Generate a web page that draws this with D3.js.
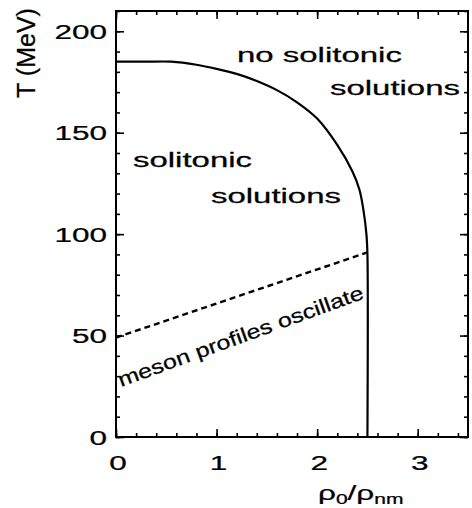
<!DOCTYPE html>
<html>
<head>
<meta charset="utf-8">
<script src="https://cdn.jsdelivr.net/npm/d3@7/dist/d3.min.js"></script>
<style>
  body { margin: 0; background: #fff; }
  svg { display: block; }
  text { font-family: "Liberation Sans", Arial, Helvetica, sans-serif; fill: #000; stroke: #000; stroke-width: 0.25px; }
</style>
</head>
<body>
<svg id="chart" width="472" height="508"></svg>
<script>
// Boundary between solitonic and non-solitonic solutions
const boundaryDensity = [0, 0.3, 0.55, 0.8, 1.0, 1.2, 1.4, 1.6, 1.8, 2.0, 2.2, 2.35, 2.42, 2.46, 2.49, 2.5, 2.5];
const boundaryT       = [185, 185, 185, 183.5, 181.5, 179, 175.5, 171, 165, 157, 144, 131, 122, 112, 100, 90, 0];

// Onset of oscillating meson profiles (dashed)
const oscDensity = [0, 2.5];
const oscT       = [49, 91];

const xTickValues = [0, 1, 2, 3];
const yTickValues = [0, 50, 100, 150, 200];
const xMinorStep = 0.2;
const yMinorStep = 10;

const svg = d3.select("#chart");
const plotLeft = 116, plotRight = 468, plotTop = 11, plotBottom = 437;

const x = d3.scaleLinear().domain([0, 3.5]).range([plotLeft, plotRight]);
const y = d3.scaleLinear().domain([0, 210]).range([plotBottom, plotTop]);

const xMinor = d3.range(0, 3.5 + 1e-9, xMinorStep).map(v => +v.toFixed(2));
const yMinor = d3.range(0, 210 + 1e-9, yMinorStep);

// inward-pointing ticks on all four sides
function tickAxis(gen, scale, values, size, tx, ty) {
  svg.append("g")
    .attr("transform", `translate(${tx},${ty})`)
    .call(gen(scale).tickValues(values).tickSize(size).tickFormat(""))
    .call(g => g.select(".domain").remove())
    .call(g => g.selectAll("line").attr("stroke", "#000").attr("stroke-width", 1.6));
}
tickAxis(d3.axisBottom, x, xMinor, -4, 0, plotBottom);
tickAxis(d3.axisBottom, x, xTickValues, -8, 0, plotBottom);
tickAxis(d3.axisTop, x, xMinor, -4, 0, plotTop);
tickAxis(d3.axisTop, x, xTickValues, -8, 0, plotTop);
tickAxis(d3.axisLeft, y, yMinor, -4, plotLeft, 0);
tickAxis(d3.axisLeft, y, yTickValues, -8, plotLeft, 0);
tickAxis(d3.axisRight, y, yMinor, -4, plotRight, 0);
tickAxis(d3.axisRight, y, yTickValues, -8, plotRight, 0);

// frame
svg.append("rect")
  .attr("x", plotLeft).attr("y", plotTop)
  .attr("width", plotRight - plotLeft).attr("height", plotBottom - plotTop)
  .attr("fill", "none").attr("stroke", "#000").attr("stroke-width", 2);

// tick labels (wide face, stretched horizontally)
const tickFont = 21, stretch = 1.5;
svg.append("g").selectAll("g").data(xTickValues).join("g")
  .attr("transform", d => `translate(${x(d) + 2},470) scale(${stretch},1)`)
  .append("text")
  .attr("text-anchor", "middle")
  .attr("font-size", tickFont)
  .text(d => d);

svg.append("g").selectAll("g").data(yTickValues).join("g")
  .attr("transform", d => `translate(107,${y(d) + 7.5}) scale(${stretch},1)`)
  .append("text")
  .attr("text-anchor", "end")
  .attr("font-size", tickFont)
  .text(d => d);

// axis titles
svg.append("text")
  .attr("transform", "translate(35,53) rotate(-90)")
  .attr("text-anchor", "middle")
  .attr("font-size", 25)
  .text("T (MeV)");

const xTitle = svg.append("g")
  .attr("transform", `translate(318,500) scale(${stretch},1)`)
  .append("text")
  .attr("font-size", 21);
xTitle.append("tspan").text("ρ");
xTitle.append("tspan").attr("font-size", 14).attr("dy", 4).text("0");
xTitle.append("tspan").attr("dy", -4).text("/ρ");
xTitle.append("tspan").attr("font-size", 14).attr("dy", 4).text("nm");

// curves
const line = d3.line().x(d => x(d[0])).y(d => y(d[1]));

svg.append("path")
  .datum(d3.zip(boundaryDensity, boundaryT))
  .attr("d", line.curve(d3.curveCatmullRom.alpha(0.5)))
  .attr("fill", "none")
  .attr("stroke", "#000")
  .attr("stroke-width", 2.2);

svg.append("path")
  .datum(d3.zip(oscDensity, oscT))
  .attr("d", d3.line().x(d => x(d[0])).y(d => y(d[1])))
  .attr("fill", "none")
  .attr("stroke", "#000")
  .attr("stroke-width", 2.4)
  .attr("stroke-dasharray", "6,4");

// region annotations
const annFont = 21, annStretch = 1.57;
function annotate(text, px, py, anchor) {
  svg.append("g")
    .attr("transform", `translate(${px},${py}) scale(${annStretch},1)`)
    .append("text")
    .attr("text-anchor", anchor)
    .attr("font-size", annFont)
    .text(text);
}
annotate("no solitonic", 237, 62, "start");
annotate("solutions", 460, 95, "end");
annotate("solitonic", 133, 167, "start");
annotate("solutions", 341, 203, "end");

svg.append("g")
  .attr("transform", "translate(121,387) rotate(-20) scale(1.25,1)")
  .append("text")
  .attr("font-size", 20)
  .text("meson profiles oscillate");
</script>
</body>
</html>
